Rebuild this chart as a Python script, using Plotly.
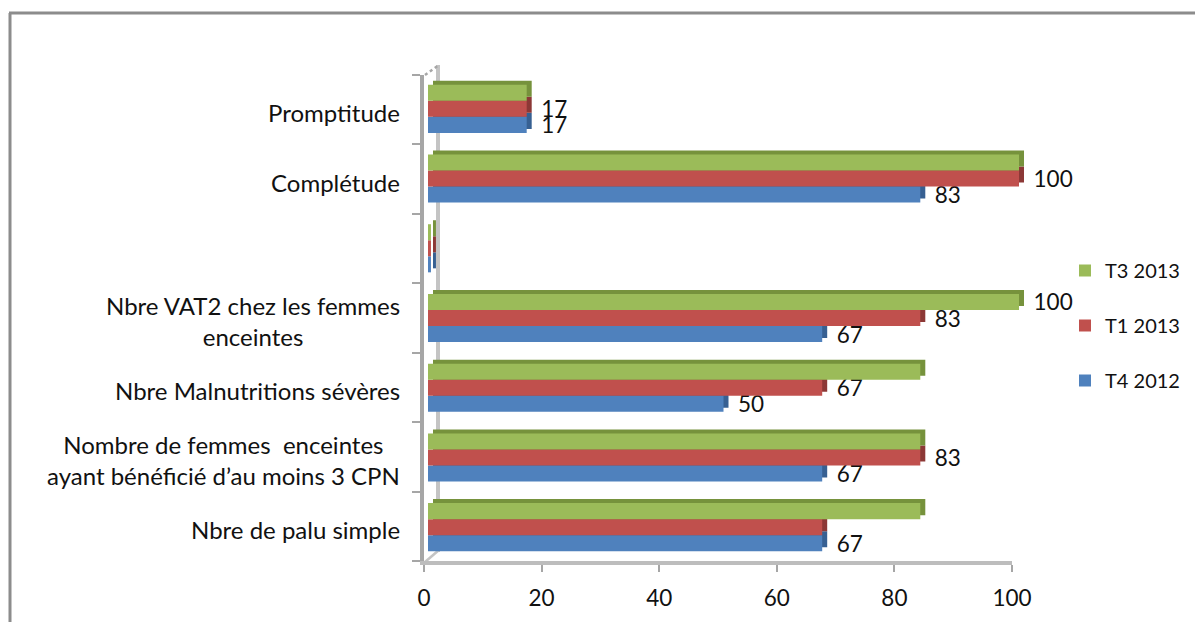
import plotly.graph_objects as go

W, H = 1195, 622
categories = ["Nbre de palu simple", "Nombre de femmes  enceintes<br>ayant bénéficié d’au moins 3 CPN",
              "Nbre Malnutritions sévères", "Nbre VAT2 chez les femmes<br>enceintes", " ",
              "Complétude", "Promptitude"]
t4_2012 = [66.7, 66.7, 50, 66.7, 0.5, 83.3, 16.7]
t1_2013 = [66.7, 83.3, 66.7, 83.3, 0.5, 100, 16.7]
t3_2013 = [83.3, 83.3, 83.3, 100, 0.5, 100, 16.7]
t4_labels = ["67", "67", "50", "67", "", "83", "17"]
t1_labels = ["", "83", "67", "83", "", "100", "17"]
t3_labels = ["", "", "", "100", "", "", ""]
x_ticks = [0, 20, 40, 60, 80, 100]

series = [("T4 2012", t4_2012, t4_labels, "#4f81bd", "#376092", 3),
          ("T1 2013", t1_2013, t1_labels, "#c0504d", "#8c3836", 2),
          ("T3 2013", t3_2013, t3_labels, "#9bbb59", "#76923c", 1)]

FONT = "Lato"
TXT = "#111111"
GREY = "#a6a6a6"
fx = lambda p: p / W
fy = lambda p: 1 - p / H

fig = go.Figure()
for name, vals, _, _, dark, _r in series:
    fig.add_trace(go.Bar(y=categories, x=vals, orientation="h", xaxis="x2", yaxis="y2",
                         marker=dict(color=dark, line_width=0), showlegend=False, hoverinfo="skip"))
for name, vals, labels, col, _, rank in series:
    fig.add_trace(go.Bar(y=categories, x=vals, orientation="h", xaxis="x3", yaxis="y3", name=name,
                         legendgroup=name, legendrank=rank, marker=dict(color=col, line_width=0),
                         text=labels, texttemplate="\u00a0\u00a0%{text}", textposition="outside",
                         cliponaxis=False, constraintext="none",
                         textfont=dict(family=FONT, size=22.5, color=TXT)))

hidden = dict(visible=False, fixedrange=True)
hidden_y = dict(visible=False, type="category", categoryorder="array", categoryarray=categories,
                range=[-0.5, 6.5])
shapes = [
    dict(type="line", xref="paper", yref="paper", x0=fx(10), x1=fx(10), y0=0, y1=fy(13),
         line=dict(color="#8c8c8c", width=3)),
    dict(type="line", xref="paper", yref="paper", x0=fx(9), x1=1, y0=fy(13), y1=fy(13),
         line=dict(color="#8c8c8c", width=3)),
    dict(type="line", xref="paper", yref="paper", x0=fx(438), x1=fx(438), y0=fy(552), y1=fy(65),
         line=dict(color="#c4c4c4", width=4), layer="below"),
    dict(type="line", xref="paper", yref="paper", x0=fx(425), x1=fx(439), y0=fy(75), y1=fy(65),
         line=dict(color=GREY, width=2.5, dash="dot"), layer="below"),
    dict(type="line", xref="paper", yref="paper", x0=fx(425), x1=fx(439), y0=fy(562), y1=fy(550),
         line=dict(color="#c4c4c4", width=2.5), layer="below"),
]
annotations = [dict(text=c, xref="paper", yref="y", x=fx(402), y=c, xanchor="right", yanchor="middle",
                    yshift=-3, align="center", showarrow=False,
                    font=dict(family=FONT, size=24, color=TXT))
               for c in categories if c.strip()]

fig.update_layout(
    width=W, height=H, autosize=False, margin=dict(l=0, r=0, t=0, b=0, autoexpand=False),
    paper_bgcolor="white", plot_bgcolor="rgba(0,0,0,0)",
    barmode="group", bargap=0.31, bargroupgap=0,
    font=dict(family=FONT, color=TXT),
    xaxis=dict(domain=[fx(424), fx(1012)], range=[0, 100], tickmode="array", tickvals=x_ticks,
               anchor="y", showgrid=False, zeroline=False, showline=True, linecolor="#bdbdbd", linewidth=4,
               ticks="outside", ticklen=7, tickwidth=2, tickcolor=GREY, ticklabelstandoff=7,
               tickfont=dict(family=FONT, size=22.5, color=TXT)),
    yaxis=dict(domain=[fy(561), fy(75)], type="category", categoryorder="array", categoryarray=categories,
               range=[-0.5, 6.5], anchor="x", tickson="boundaries", showgrid=False, zeroline=False,
               showline=True, linecolor=GREY, linewidth=4, ticks="outside", ticklen=8, tickwidth=2,
               tickcolor=GREY, showticklabels=False),
    xaxis2=dict(domain=[fx(433), fx(1024)], range=[0, 100], anchor="y2", **hidden),
    yaxis2=dict(domain=[fy(558), fy(70)], anchor="x2", **hidden_y),
    xaxis3=dict(domain=[fx(428), fx(1019)], range=[0, 100], anchor="y3", **hidden),
    yaxis3=dict(domain=[fy(562), fy(74)], anchor="x3", **hidden_y),
    legend=dict(x=fx(1065), y=fy(251), xanchor="left", yanchor="top", traceorder="grouped",
                tracegroupgap=26, font=dict(family=FONT, size=20, color=TXT), bgcolor="rgba(0,0,0,0)",
                entrywidth=78, entrywidthmode="pixels",
                itemclick=False, itemdoubleclick=False),
    shapes=shapes, annotations=annotations,
)
fig.write_html("out.html", config={"displayModeBar": False},
               post_script="document.body.style.margin='0';document.documentElement.style.overflow='hidden';")
